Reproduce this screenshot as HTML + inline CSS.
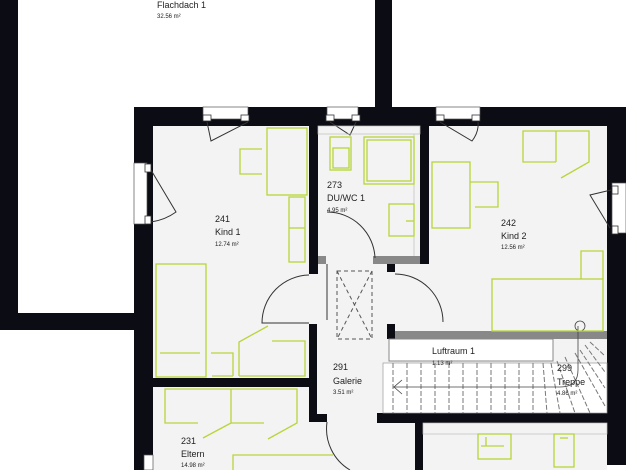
<!DOCTYPE html>
<html><head><meta charset="utf-8"><style>
html,body{margin:0;padding:0;background:#fff;width:626px;height:470px;overflow:hidden}
svg{display:block}
text{font-family:"Liberation Sans",sans-serif;fill:#222}
.n{font-size:9px}.s{font-size:6px}
.g{fill:none;stroke:#b8d53a;stroke-width:1.3}
.d{fill:none;stroke:#333;stroke-width:1}
</style></head><body>
<svg width="626" height="470" viewBox="0 0 626 470">
<rect width="626" height="470" fill="#fff"/>
<rect x="0" y="0" width="18" height="330" fill="#0c0c14"/>
<rect x="0" y="313" width="153" height="17" fill="#0c0c14"/>
<rect x="375" y="0" width="17" height="110" fill="#0c0c14"/>
<rect x="153" y="126" width="454" height="344" fill="#f3f3f3"/>
<rect x="134" y="107" width="492" height="19" fill="#0c0c14"/>
<rect x="134" y="107" width="19" height="363" fill="#0c0c14"/>
<rect x="607" y="107" width="19" height="358" fill="#0c0c14"/>
<g fill="#fff" stroke="#555" stroke-width="0.7">
<rect x="203" y="107" width="45" height="12"/>
<rect x="327" y="107" width="31" height="12"/>
<rect x="436" y="107" width="44" height="12"/>
<rect x="134" y="163" width="13" height="61"/>
<rect x="612" y="183" width="14" height="50"/>
<rect x="144" y="455" width="9" height="15"/>
</g>
<g fill="#fff" stroke="#333" stroke-width="0.8">
<rect x="203" y="115" width="8" height="6"/><rect x="241" y="115" width="8" height="6"/>
<rect x="326" y="115" width="8" height="6"/><rect x="352" y="115" width="8" height="6"/>
<rect x="436" y="115" width="8" height="6"/><rect x="472" y="115" width="8" height="6"/>
<rect x="145" y="164" width="6" height="8"/><rect x="145" y="216" width="6" height="8"/>
<rect x="612" y="186" width="6" height="8"/><rect x="612" y="226" width="6" height="8"/>
</g>
<g class="d">
<path d="M207 122 L211 141 L248 122"/><path d="M151 170 L176 212 Q165 220 151 222"/>
<path d="M330 122 L350 135 L356 122"/><path d="M440 122 L472 141 Q479 132 478 122"/>
<path d="M611 190 L590 195 L610 228"/>
</g>
<rect x="309" y="126" width="9" height="148" fill="#0c0c14"/>
<rect x="420" y="126" width="9" height="138" fill="#0c0c14"/>
<rect x="318" y="256" width="8" height="8" fill="#888"/>
<rect x="373" y="256" width="47" height="8" fill="#888"/>
<rect x="387" y="264" width="8" height="8" fill="#0c0c14"/>
<rect x="318" y="126" width="102" height="8" fill="none" stroke="#bbb" stroke-width="0.7"/>
<line x1="414" y1="134" x2="414" y2="256" stroke="#bbb" stroke-width="0.7"/>
<rect x="309" y="324" width="8" height="98" fill="#0c0c14"/>
<rect x="309" y="414" width="18" height="8" fill="#0c0c14"/>
<rect x="153" y="378" width="164" height="9" fill="#0c0c14"/>
<rect x="387" y="324" width="8" height="15" fill="#0c0c14"/>
<rect x="395" y="331" width="212" height="8" fill="#888"/>
<rect x="377" y="413" width="230" height="10" fill="#0c0c14"/>
<rect x="415" y="423" width="8" height="47" fill="#0c0c14"/>
<rect x="423" y="423" width="184" height="11" fill="none" stroke="#bbb" stroke-width="0.7"/>
<g class="d">
<path d="M309 275 A48 48 0 0 0 262 323 L309 323"/>
<path d="M395 274 A48 48 0 0 1 443 322"/>
<path d="M327 264 L327 320"/>
<path d="M327 422 A48 48 0 0 0 350 470"/>
</g>
<path d="M327 212 A48 48 0 0 1 375 258" class="d"/>
<g fill="none" stroke="#555" stroke-width="1" stroke-dasharray="4,3">
<rect x="337" y="271" width="35" height="68"/>
<path d="M337 271 L372 339 M372 271 L337 339"/>
</g>
<rect x="389" y="339" width="164" height="22" fill="#fff" stroke="#888" stroke-width="1"/>
<rect x="383" y="363" width="224" height="50" fill="#fff" stroke="#999" stroke-width="0.7"/>
<g stroke="#777" stroke-width="1" stroke-dasharray="5,2">
<path d="M393 363V413M407 363V413M421 363V413M435 363V413M449 363V413M463 363V413M477 363V413M491 363V413M505 363V413M519 363V413M533 363V413"/>
<path d="M543 363L547 413M551 363L560 413M557 361L575 413M565 357L590 413M575 353L605 406M580 350L605 388M585 345L605 372M590 342L605 356"/>
</g>
<path d="M393 387 L560 387 Q578 387 578 370 L578 326" fill="none" stroke="#444" stroke-width="0.8"/>
<path d="M402 380 L394 387 L402 394" fill="none" stroke="#444" stroke-width="0.8"/>
<circle cx="580" cy="326" r="5" fill="none" stroke="#444" stroke-width="0.8"/>
<g class="g">
<rect x="267" y="128" width="40" height="67"/>
<path d="M262 149H240V174H262"/>
<rect x="289" y="197" width="16" height="65"/>
<path d="M289 228H305"/>
<rect x="156" y="264" width="50" height="113"/>
<path d="M160 353H200M211 353H233V376M212 376H233"/>
<path d="M239 376V342L268 326M272 341H305V376H239"/>
<rect x="330" y="137" width="21" height="33"/><rect x="333" y="148" width="16" height="20"/>
<rect x="364" y="137" width="50" height="47"/><rect x="367" y="140" width="44" height="41"/>
<rect x="389" y="204" width="25" height="32"/><path d="M406 221H414"/>
<path d="M556 131H523V162H556M556 162V131H589V162L561 178"/>
<rect x="432" y="162" width="38" height="66"/><path d="M470 182H498V207H475"/>
<rect x="492" y="279" width="111" height="52"/>
<path d="M581 279V251H603V279"/>
<path d="M198 423H165V389H297V423L268 439"/>
<path d="M231 389V423H264M231 423L203 438"/>
<rect x="478" y="434" width="33" height="25"/><path d="M486 437V446M481 446H504"/>
<rect x="554" y="434" width="20" height="33"/><path d="M560 438H568"/>
<path d="M233 470V455H333"/>
</g>
<text x="157" y="8" class="n">Flachdach 1</text><text x="157" y="18" class="s">32.56 m²</text>
<text x="215" y="222" class="n">241</text><text x="215" y="235" class="n">Kind 1</text><text x="215" y="246" class="s">12.74 m²</text>
<text x="327" y="188" class="n">273</text><text x="327" y="201" class="n">DU/WC 1</text><text x="327" y="212" class="s">4.95 m²</text>
<text x="501" y="226" class="n">242</text><text x="501" y="239" class="n">Kind 2</text><text x="501" y="249" class="s">12.56 m²</text>
<text x="333" y="370" class="n">291</text><text x="333" y="384" class="n">Galerie</text><text x="333" y="394" class="s">3.51 m²</text>
<text x="432" y="354" class="n">Luftraum 1</text><text x="432" y="365" class="s">1.13 m²</text>
<text x="557" y="371" class="n">299</text><text x="557" y="385" class="n">Treppe</text><text x="557" y="395" class="s">4.86 m²</text>
<text x="181" y="444" class="n">231</text><text x="181" y="457" class="n">Eltern</text><text x="181" y="467" class="s">14.98 m²</text>
</svg>
</body></html>
